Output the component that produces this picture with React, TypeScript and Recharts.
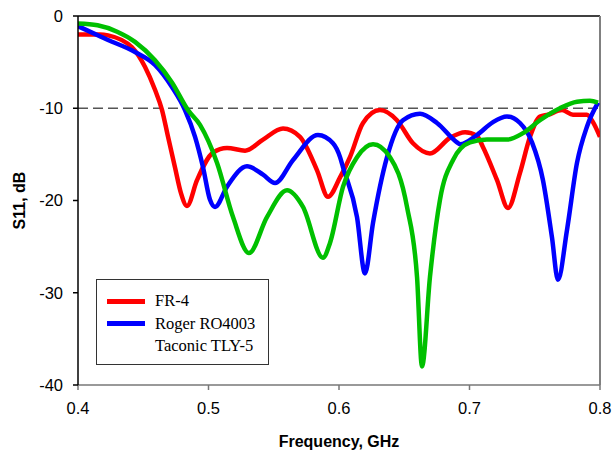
import React from 'react'
import { LineChart, Line, XAxis, YAxis, ReferenceLine, Legend, Label } from 'recharts'

// frequency in GHz, S11 in dB
const FR4 = [
  [0.4, -2.0], [0.4169, -2.0], [0.423, -2.1], [0.4414, -3.4], [0.4513, -5.5], [0.459, -8.0],
  [0.4644, -10.2], [0.469, -13.1], [0.4743, -16.4], [0.4789, -19.2], [0.4835, -20.6], [0.4912, -17.8],
  [0.5034, -14.8], [0.5142, -14.3], [0.528, -14.6], [0.5418, -13.4], [0.5571, -12.2], [0.5701, -13.1],
  [0.5831, -16.7], [0.5916, -19.6], [0.6008, -17.5], [0.6084, -15.3], [0.6184, -11.6], [0.6314, -10.2],
  [0.6444, -11.3], [0.6567, -13.8], [0.6697, -14.9], [0.6851, -13.2], [0.6966, -12.6], [0.7057, -13.0],
  [0.7103, -14.2], [0.7211, -17.8], [0.7295, -20.8], [0.7387, -17.0], [0.7464, -13.1], [0.754, -10.9],
  [0.7602, -10.7], [0.7709, -10.2], [0.7793, -10.7], [0.79, -10.7], [0.7946, -11.5], [0.8, -13.1],
]

const RO4003 = [
  [0.4, -1.1], [0.423, -2.6], [0.4437, -3.9], [0.459, -5.3], [0.472, -7.7], [0.482, -10.2],
  [0.4897, -13.1], [0.4958, -16.4], [0.5011, -19.9], [0.505, -20.7], [0.5142, -18.5], [0.5295, -16.3],
  [0.5418, -17.2], [0.551, -18.1], [0.5648, -15.6], [0.5839, -12.9], [0.5954, -13.8], [0.6008, -15.3],
  [0.6031, -16.4], [0.6138, -21.8], [0.6199, -27.9], [0.6261, -22.4], [0.6368, -15.3], [0.649, -11.3],
  [0.6621, -10.6], [0.6751, -11.6], [0.6904, -13.7], [0.6927, -13.9], [0.7057, -12.9], [0.718, -11.5],
  [0.7287, -10.9], [0.7387, -11.6], [0.7479, -13.7], [0.7563, -17.8], [0.7632, -24.0], [0.7678, -28.6],
  [0.7747, -23.2], [0.7824, -15.9], [0.79, -12.0], [0.7985, -9.4],
]

const TLY5 = [
  [0.4, -0.8], [0.415, -1.0], [0.43, -1.7], [0.4437, -2.8], [0.459, -4.8], [0.472, -7.2], [0.4843, -10.2],
  [0.4935, -11.8], [0.5065, -15.9], [0.5188, -21.8], [0.531, -25.7], [0.5448, -21.8], [0.5602, -18.9],
  [0.5724, -20.7], [0.5877, -26.2], [0.5931, -24.6], [0.6031, -18.5], [0.6138, -15.3], [0.6261, -13.9],
  [0.6391, -15.3], [0.6521, -20.7], [0.6598, -28.3], [0.6636, -38.0], [0.6697, -28.3], [0.6774, -19.9],
  [0.6874, -15.6], [0.7004, -13.7], [0.7134, -13.4], [0.7287, -13.4], [0.741, -12.7], [0.754, -11.3],
  [0.7693, -10.0], [0.7824, -9.3], [0.7923, -9.2], [0.7985, -9.4],
]

const X_TICKS = [0.4, 0.5, 0.6, 0.7, 0.8]
const Y_TICKS = [0, -10, -20, -30, -40]

const toRows = (pts: number[][]) => pts.map(([f, s]) => ({ f, s }))

const SERIES = [
  { name: 'FR-4', color: '#FF0000', sample: '#FF0000', data: toRows(FR4) },
  { name: 'Roger RO4003', color: '#0000FF', sample: '#0000FF', data: toRows(RO4003) },
  { name: 'Taconic TLY-5', color: '#00C000', sample: '#FFFFFF', data: toRows(TLY5) },
]

const FONT = '"Liberation Sans", Arial, sans-serif'

const LegendBox = () => (
  <div style={{
    width: 173, height: 86, boxSizing: 'border-box', border: '1px solid #333', background: '#fff',
    paddingTop: 10, fontFamily: 'Liberation Serif, "DejaVu Serif", serif', fontSize: 16.5, color: '#000',
  }}>
    {SERIES.map(s => (
      <div key={s.name} style={{ display: 'flex', alignItems: 'center', height: 22.5 }}>
        <span style={{ display: 'inline-block', width: 38, height: 5, background: s.sample, marginLeft: 10, marginRight: 10 }} />
        <span style={{ fontFamily: 'Liberation Serif, serif' }}>{s.name}</span>
      </div>
    ))}
  </div>
)

export default function App() {
  return (
    <div style={{ position: 'absolute', left: 0, top: 0, background: '#fff' }}>
      <LineChart width={612} height={455} margin={{ top: 16, right: 12, bottom: 0, left: 0 }}>
        <XAxis type="number" dataKey="f" domain={[0.4, 0.8]} ticks={X_TICKS} allowDataOverflow
          tickFormatter={(v) => v.toFixed(1)} height={70} tickSize={5} tickMargin={12}
          axisLine={{ stroke: '#777', strokeWidth: 1.5 }} tickLine={{ stroke: '#777', strokeWidth: 1.5 }}
          tick={{ fontSize: 16.5, fill: '#000', fontFamily: FONT }}>
          <Label position="insideBottom" offset={8} value="Frequency, GHz"
            style={{ fontSize: 16, fontWeight: 700, fill: '#000', fontFamily: FONT }} />
        </XAxis>
        <YAxis type="number" domain={[-40, 0]} ticks={Y_TICKS} allowDataOverflow width={78}
          tickSize={5} tickMargin={10}
          axisLine={{ stroke: '#000', strokeWidth: 1.5 }} tickLine={{ stroke: '#000', strokeWidth: 1.5 }}
          tick={{ fontSize: 16.5, fill: '#000', fontFamily: FONT }}>
          <Label content={({ viewBox }: any) => {
            const cx = viewBox.x + 19
            const cy = viewBox.y + viewBox.height / 2
            return (
              <text x={cx} y={cy} textAnchor="middle" dominantBaseline="central" transform={`rotate(-90 ${cx} ${cy})`}
                style={{ fontSize: 16, fontWeight: 700, fill: '#000', fontFamily: FONT }}>S11, dB</text>
            )
          }} />
        </YAxis>
        <ReferenceLine y={0} stroke="#000" strokeWidth={1.5} />
        <ReferenceLine x={0.8} stroke="#808080" strokeWidth={2} />
        <ReferenceLine y={-10} stroke="#555" strokeWidth={1.5} strokeDasharray="10 5" />
        {SERIES.map(s => (
          <Line key={s.name} data={s.data} dataKey="s" name={s.name} type="monotone" stroke={s.color}
            strokeWidth={4.5} dot={false} activeDot={false} isAnimationActive={false} />
        ))}
        <Legend layout="vertical" align="center" verticalAlign="middle" content={() => <LegendBox />}
          wrapperStyle={{ left: 96, top: 279, width: 173 }} />
      </LineChart>
    </div>
  )
}
